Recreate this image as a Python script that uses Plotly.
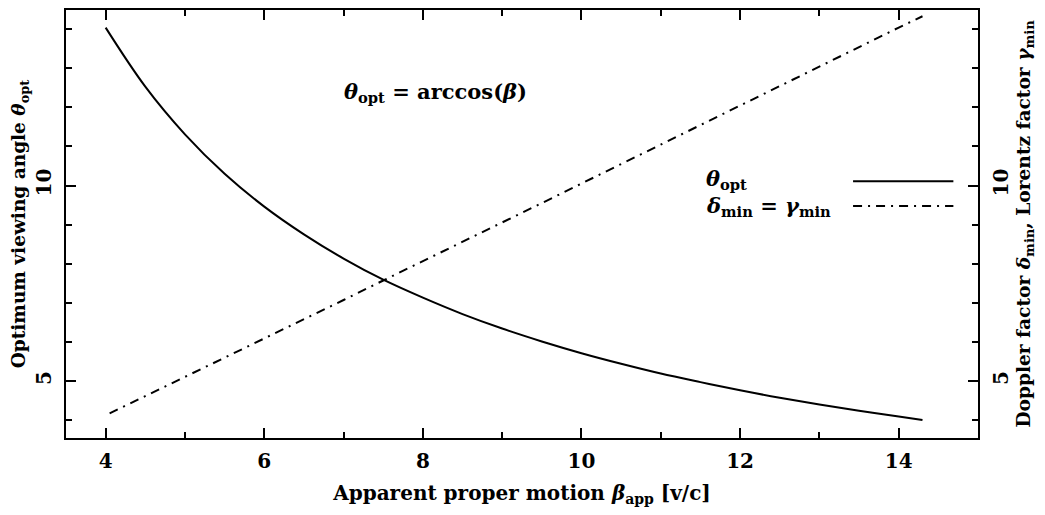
import plotly.graph_objects as go

# apparent proper motion beta_app [v/c]
beta_app = [4.0, 4.5, 5.0, 5.5, 6.0, 6.5, 7.0, 7.5, 8.0, 8.5, 9.0, 9.5,
            10.0, 10.5, 11.0, 11.5, 12.0, 12.5, 13.0, 13.5, 14.0, 14.3]
# optimum viewing angle theta_opt [deg]
theta_opt = [14.04, 12.53, 11.31, 10.30, 9.46, 8.75, 8.13, 7.59, 7.13, 6.71, 6.34, 6.01,
             5.71, 5.44, 5.19, 4.97, 4.76, 4.57, 4.40, 4.24, 4.09, 4.00]
# minimum Doppler factor = minimum Lorentz factor
beta_app_d = [4.05, 4.5, 5.0, 5.5, 6.0, 6.5, 7.0, 7.5, 8.0, 8.5, 9.0, 9.5,
              10.0, 10.5, 11.0, 11.5, 12.0, 12.5, 13.0, 13.5, 14.0, 14.3]
delta_min = [4.17, 4.61, 5.10, 5.59, 6.08, 6.58, 7.07, 7.57, 8.06, 8.56, 9.06, 9.55,
             10.05, 10.55, 11.05, 11.54, 12.04, 12.54, 13.04, 13.54, 14.04, 14.33]

x_range = [3.5, 15.0]
y_range = [3.54, 14.49]

FONT = "DejaVu Serif"
DASHDOT = "9px,6px,2px,6px"

fig = go.Figure()

fig.add_trace(go.Scatter(
    x=beta_app, y=theta_opt, mode='lines', line_shape='spline',
    line=dict(color='black', width=2), showlegend=False
))
fig.add_trace(go.Scatter(
    x=beta_app_d, y=delta_min, mode='lines',
    line=dict(color='black', width=2, dash=DASHDOT), showlegend=False,
    yaxis='y2'
))

axis_common = dict(
    showgrid=False, zeroline=False, showline=True, linecolor='black', linewidth=2,
    ticks='inside', ticklen=10, tickwidth=2, tickcolor='black', automargin=False,
    tickfont=dict(family=FONT, size=20, color='black', weight='bold'),
)
minor_ticks = dict(dtick=1, ticks='inside', ticklen=6, tickwidth=2, tickcolor='black')

# the page body has an 8px default margin, so the figure is shrunk and shifted by that much
fig.update_layout(
    width=1037, height=507,
    margin=dict(l=58, r=67, t=2, b=77),
    plot_bgcolor='white', paper_bgcolor='white',
    xaxis=dict(
        axis_common, range=x_range, tick0=4, dtick=2, mirror='ticks',
        minor=dict(minor_ticks, tick0=4),
        ticklabelstandoff=4,
        title=dict(text="<b>Apparent proper motion <i>β</i><sub>app</sub> [v/c]</b>",
                   font=dict(family=FONT, size=20, color='black'), standoff=14),
    ),
    yaxis=dict(
        axis_common, range=y_range, tick0=0, dtick=5, tickangle=-90,
        minor=dict(minor_ticks, tick0=0), ticklabelstandoff=5,
        title=dict(text="<b>Optimum viewing angle <i>θ</i><sub>opt</sub></b>",
                   font=dict(family=FONT, size=18.5, color='black'), standoff=6),
    ),
    yaxis2=dict(
        axis_common, range=y_range, tick0=0, dtick=5, tickangle=-90,
        overlaying='y', side='right',
        minor=dict(minor_ticks, tick0=0), ticklabelstandoff=4,
        title=dict(text="<b>Doppler factor <i>δ</i><sub>min</sub>, Lorentz factor <i>γ</i><sub>min</sub></b>",
                   font=dict(family=FONT, size=18.6, color='black'), standoff=2),
    ),
)

ann_font = dict(family=FONT, size=21, color='black')
fig.add_annotation(
    text="<b><i>θ</i><sub>opt</sub> = arccos(<i>β</i>)</b>",
    xref='paper', yref='paper', x=0.303, y=0.808, xanchor='left', yanchor='middle',
    showarrow=False, font=ann_font
)

# hand-made legend: text on the left, line sample on the right
fig.add_annotation(
    text="<b><i>θ</i><sub>opt</sub></b>",
    xref='paper', yref='paper', x=0.70, y=0.605, xanchor='left', yanchor='middle',
    showarrow=False, font=ann_font
)
fig.add_annotation(
    text="<b><i>δ</i><sub>min</sub> = <i>γ</i><sub>min</sub></b>",
    xref='paper', yref='paper', x=0.70, y=0.540, xanchor='left', yanchor='middle',
    showarrow=False, font=ann_font
)
fig.add_shape(type='line', xref='paper', yref='paper', x0=0.863, x1=0.973, y0=0.600, y1=0.600,
              line=dict(color='black', width=2))
fig.add_shape(type='line', xref='paper', yref='paper', x0=0.863, x1=0.973, y0=0.542, y1=0.542,
              line=dict(color='black', width=2, dash=DASHDOT))

fig.write_html("out.html")
